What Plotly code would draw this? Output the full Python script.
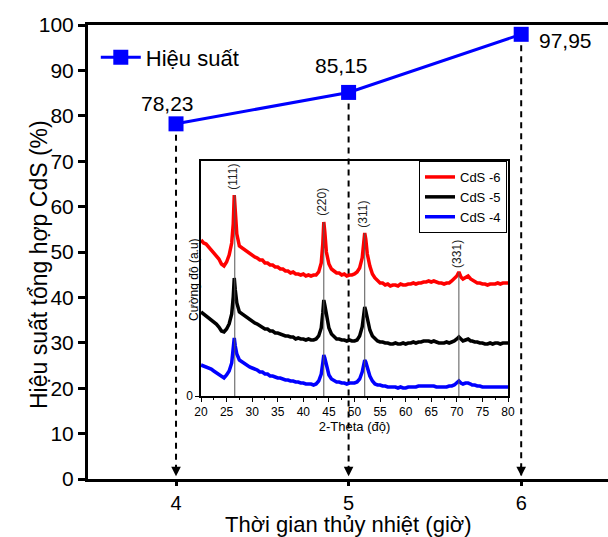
import plotly.graph_objects as go

# ---------------- main data ----------------
time_h = [4, 5, 6]
efficiency = [78.23, 85.15, 97.95]
eff_labels = ["78,23", "85,15", "97,95"]
y_ticks = [0, 10, 20, 30, 40, 50, 60, 70, 80, 90, 100]

# ---------------- inset XRD data (arbitrary units) ----------------
theta = [20, 20.5, 21, 21.5, 22, 22.5, 23, 23.5, 24, 24.5, 25, 25.5, 26,
         26.3, 26.5, 26.7,
         27, 27.5, 28, 28.5, 29, 29.5, 30, 30.5, 31, 31.5, 32, 32.5, 33, 33.5, 34, 34.5, 35, 35.5,
         36, 36.5, 37, 37.5, 38, 38.5, 39, 39.5, 40, 40.5, 41, 41.5, 42, 42.5, 43, 43.5,
         43.8, 44.0, 44.2,
         44.5, 45, 45.5, 46, 46.5, 47, 47.5, 48, 48.5, 49, 49.5, 50, 50.5, 51, 51.5,
         51.8, 52.0, 52.2,
         52.5, 53, 53.5, 54, 54.5, 55, 55.5, 56, 56.5, 57, 57.5, 58, 58.5, 59, 59.5, 60, 60.5, 61,
         61.5, 62, 62.5, 63, 63.5, 64, 64.5, 65, 65.5, 66, 66.5, 67, 67.5, 68, 68.5, 69, 69.5, 70,
         70.4, 70.8, 71.2, 71.7, 72.2, 72.7,
         73, 73.5, 74, 74.5, 75, 75.5, 76, 76.5, 77, 77.5, 78, 78.5, 79, 79.5, 80]
cds6 = [156, 153, 152, 149, 147, 144, 141, 137, 132, 130, 134, 141, 153,
        172, 201, 184,
        162, 150, 148, 146, 145, 142, 141, 139, 138, 136, 136, 133, 133, 131, 131, 129, 129, 127,
        127, 125, 125, 123, 124, 122, 122, 121, 122, 120, 121, 120, 121, 121, 124, 133,
        152, 174, 164,
        144, 132, 127, 125, 123, 123, 121, 122, 120, 121, 121, 122, 124, 128, 138,
        153, 163, 157,
        142, 130, 122, 118, 115, 113, 113, 111, 112, 110, 111, 111, 110, 112, 111, 111, 112, 112,
        113, 112, 113, 113, 114, 114, 115, 114, 115, 114, 113, 113, 112, 113, 113, 115, 117, 120,
        124, 119, 117, 119, 120, 117,
        116, 115, 113, 113, 112, 112, 111, 112, 112, 112, 113, 112, 113, 113, 113]
cds5 = [84, 82, 81, 79, 77, 75, 72, 69, 65, 64, 67, 72, 82,
        99, 118, 106,
        93, 84, 82, 80, 79, 76, 75, 73, 72, 70, 69, 67, 67, 65, 65, 63, 63, 62,
        61, 60, 60, 59, 59, 57, 58, 57, 57, 56, 57, 56, 56, 57, 60, 68,
        83, 96, 91,
        80, 68, 62, 59, 57, 57, 56, 56, 55, 56, 55, 55, 56, 60, 69,
        81, 89, 85,
        76, 66, 60, 57, 55, 54, 54, 53, 53, 52, 52, 53, 52, 52, 53, 52, 53, 53,
        54, 53, 54, 54, 55, 55, 55, 54, 55, 54, 53, 53, 53, 54, 53, 54, 55, 57,
        59, 57, 55, 56, 57, 55,
        55, 54, 54, 53, 53, 52, 52, 53, 52, 53, 53, 52, 53, 53, 53]
cds4 = [31, 30, 29, 28, 27, 25, 23, 21, 19, 18, 21, 25, 33,
        46, 58, 50,
        42, 36, 34, 32, 31, 29, 28, 27, 26, 24, 24, 22, 22, 20, 20, 19, 18, 18,
        17, 16, 16, 15, 15, 14, 14, 13, 13, 12, 12, 12, 11, 12, 15, 22,
        33, 41, 38,
        30, 21, 17, 15, 14, 14, 13, 13, 12, 13, 13, 13, 14, 17, 24,
        31, 36, 34,
        28, 20, 15, 12, 11, 11, 10, 10, 9, 9, 9, 9, 8, 9, 8, 8, 9, 9,
        9, 9, 10, 10, 10, 10, 10, 10, 10, 9, 9, 9, 9, 9, 10, 10, 11, 13,
        15, 13, 12, 13, 13, 12,
        11, 11, 10, 10, 9, 9, 9, 9, 9, 9, 9, 9, 9, 9, 9]
assert len(theta) == len(cds6) == len(cds5) == len(cds4)

peak_pos = [26.6, 44.0, 52.0, 70.4]
peak_top = [201, 174, 163, 124]
peak_names = ["(111)", "(220)", "(311)", "(331)"]
peak_label_y = [219, 194, 182, 142]
inset_x_ticks = [20, 25, 30, 35, 40, 45, 50, 55, 60, 65, 70, 75, 80]

FONT = "Liberation Sans, Arial, sans-serif"
BLUE = "#0000FF"

fig = go.Figure()

# dashed guide lines from each point to the x axis
for xv, yv in zip(time_h, efficiency):
    fig.add_trace(go.Scatter(x=[xv, xv], y=[yv, 0.8], mode="lines",
                             line=dict(color="black", width=2, dash="6px,5px"),
                             showlegend=False, hoverinfo="skip"))

# main series
fig.add_trace(go.Scatter(x=time_h, y=efficiency, mode="lines+markers", name="Hiệu suất",
                         line=dict(color=BLUE, width=3),
                         marker=dict(symbol="square", size=15, color=BLUE),
                         legend="legend"))

# inset traces
for name, ys, col in [("CdS -6", cds6, "#FF0000"), ("CdS -5", cds5, "#000000"), ("CdS -4", cds4, "#0000FF")]:
    fig.add_trace(go.Scatter(x=theta, y=ys, mode="lines", name=name,
                             line=dict(color=col, width=3.5),
                             xaxis="x2", yaxis="y2", legend="legend2"))

# peak reference lines
px, py = [], []
for p, t in zip(peak_pos, peak_top):
    px += [p, p, None]
    py += [0, t, None]
fig.add_trace(go.Scatter(x=px, y=py, mode="lines", line=dict(color="#555555", width=1),
                         xaxis="x2", yaxis="y2", showlegend=False, hoverinfo="skip"))

annotations = []
# value labels
shifts = [(-9, 20), (-7, 27), (44, -6)]
for xv, yv, lab, (dx, dy) in zip(time_h, efficiency, eff_labels, shifts):
    annotations.append(dict(x=xv, y=yv, xref="x", yref="y", text=lab, showarrow=False,
                            xshift=dx, yshift=dy, font=dict(size=21, color="black", family=FONT)))
# arrowheads at the x axis
for xv in time_h:
    annotations.append(dict(x=xv, y=0.6, xref="x", yref="y", ax=0, ay=-12, text="",
                            showarrow=True, arrowhead=2, arrowsize=1.2, arrowwidth=1.6,
                            arrowcolor="black"))
# peak labels
for p, name, ly in zip(peak_pos, peak_names, peak_label_y):
    annotations.append(dict(x=p, y=ly, xref="x2", yref="y2", text=name, showarrow=False,
                            textangle=-90, xshift=-2, font=dict(size=12, color="#222222", family=FONT)))
# main y-axis title
annotations.append(dict(x=(24 - 88) / 520, y=(479 - 265) / 454, xref="paper", yref="paper",
                        text="Hiệu suất tổng hợp CdS (%)", textangle=-90, showarrow=False,
                        font=dict(size=23, color="black", family=FONT)))
# main x-axis title
annotations.append(dict(x=0.5, y=-(524 - 479) / 454, xref="paper", yref="paper",
                        text="Thời gian thủy nhiệt (giờ)", showarrow=False, yanchor="middle",
                        font=dict(size=22, color="black", family=FONT)))
# inset y-axis title
annotations.append(dict(x=(185 - 88) / 520, y=(479 - 280) / 454, xref="paper", yref="paper",
                        text="Cường độ (a.u)", textangle=-90, showarrow=False,
                        font=dict(size=12, color="black", family=FONT)))

fig.update_layout(
    width=608, height=537,
    margin=dict(l=88, r=0, t=25, b=58, autoexpand=False),
    paper_bgcolor="white", plot_bgcolor="rgba(0,0,0,0)",
    font=dict(family=FONT, color="black"),
    xaxis=dict(range=[3.49, 6.503], tickvals=time_h, ticktext=[str(v) for v in time_h],
               showline=True, linecolor="black", linewidth=3, mirror=True,
               ticks="outside", ticklen=4, tickwidth=3, tickcolor="black",
               showgrid=False, zeroline=False, tickfont=dict(size=20), automargin=False),
    yaxis=dict(range=[0, 100], tickvals=y_ticks, showline=True, linecolor="black", linewidth=3,
               ticks="outside", ticklen=7, tickwidth=3, tickcolor="black", automargin=False,
               showgrid=False, zeroline=False, tickfont=dict(size=21)),
    xaxis2=dict(domain=[(201 - 88) / 520, (508 - 88) / 520], anchor="y2", range=[20, 80],
                tickvals=inset_x_ticks, showline=True, linecolor="black", linewidth=1.5, mirror=True,
                ticks="outside", ticklen=4, tickwidth=1, tickcolor="black", automargin=False,
                minor=dict(ticks="outside", ticklen=2, dtick=2.5, tickcolor="black"),
                showgrid=False, zeroline=False, tickfont=dict(size=12),
                title=dict(text="2-Theta (độ)", font=dict(size=13), standoff=2)),
    yaxis2=dict(domain=[(479 - 396) / 454, (479 - 161) / 454], anchor="x2", range=[0, 235],
                tickvals=[0], ticktext=["0"], showline=True, linecolor="black", linewidth=1.5,
                mirror=True, ticks="outside", ticklen=4, tickcolor="black", automargin=False,
                showgrid=False, zeroline=False, tickfont=dict(size=12)),
    legend=dict(x=0.015, y=0.975, xanchor="left", yanchor="top", bgcolor="rgba(0,0,0,0)",
                font=dict(size=22), itemwidth=40),
    legend2=dict(x=(507 - 88) / 520, y=(479 - 161) / 454, xanchor="right", yanchor="top",
                 bgcolor="white", bordercolor="black", borderwidth=1, font=dict(size=13),
                 itemwidth=30, tracegroupgap=0),
    annotations=annotations,
)

fig.write_html("out.html")
